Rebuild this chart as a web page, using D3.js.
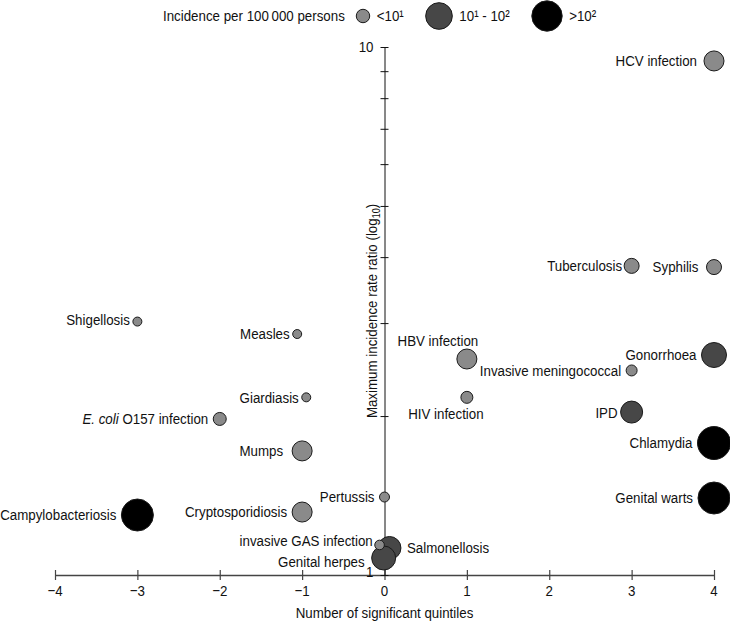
<!DOCTYPE html>
<html>
<head>
<meta charset="utf-8">
<script src="https://cdn.jsdelivr.net/npm/d3@7"></script>
<style>
body { margin: 0; background: #fff; }
svg text { font-family: "Liberation Sans", Arial, Helvetica, sans-serif; font-size: 15.5px; fill: #111; }
</style>
</head>
<body>
<div id="chart"></div>
<script>
// diseases, quintiles, max IRR (log axis), incidence per 100 000
var diseases = ["HCV infection", "Tuberculosis", "Syphilis", "Shigellosis", "Measles",
  "HBV infection", "Gonorrhoea", "Invasive meningococcal", "Giardiasis", "HIV infection",
  "E. coli O157 infection", "IPD", "Chlamydia", "Mumps", "Pertussis", "Genital warts",
  "Campylobacteriosis", "Cryptosporidiosis", "Salmonellosis", "Genital herpes", "invasive GAS infection"]
var quintiles = [4, 3, 4, -3, -1.06, 1, 4, 3, -0.95, 1, -2, 3, 4, -1, 0, 4, -3, -1, 0.06, -0.01, -0.06]
var irr = [9.41, 3.85, 3.83, 3.02, 2.86, 2.565, 2.61, 2.44, 2.17, 2.17, 1.975, 2.035, 1.778, 1.718,
  1.405, 1.399, 1.299, 1.316, 1.125, 1.077, 1.14]
var incidence = [7.4, 1.6, 1.6, 0.25, 0.25, 7.4, 34, 0.46, 0.25, 0.63, 0.86, 13.6, 400, 7.4,
  0.34, 293, 293, 7.4, 18.5, 25, 0.3]

var xTicks = [-4, -3, -2, -1, 0, 1, 2, 3, 4]
var yTicks = [1, 2, 3, 4, 5, 6, 7, 8, 9, 10]
var yTickLabels = [1, 10]
var legendLabels = ["<10\u00B9", "10\u00B9 - 10\u00B2", ">10\u00B2"]
var legendIncidence = [0.6, 46, 158]

var width = 730, height = 624
var sx = 0.86 // narrow the type, like the original condensed face

var svg = d3.select("#chart").append("svg")
  .attr("width", width)
  .attr("height", height)

var x = d3.scaleLinear().domain([-4, 4]).range([55, 714])
var y = d3.scaleLog().domain([1, 10]).range([575, 47])
var r = d3.scaleLog().domain([0.1, 1000]).range([3, 18])

function fillFor(v) {
  if (v < 10) return "#8a8a8a"
  if (v < 100) return "#474747"
  return "#000"
}

function ctext(g, px, py, anchor) {
  return g.append("text")
    .attr("transform", "translate(" + px + "," + py + ") scale(" + sx + ",1)")
    .attr("text-anchor", anchor || "start")
    .attr("dy", "0.35em")
}

// x axis
var xAxis = svg.append("g")
  .attr("transform", "translate(0," + y(1) + ")")
  .call(d3.axisBottom(x).tickValues(xTicks).tickSizeOuter(0).tickFormat(""))
xAxis.select(".domain").attr("stroke", "#444").attr("stroke-width", 1.6)
xAxis.selectAll(".tick line").attr("y1", -5).attr("y2", 5).attr("stroke", "#444").attr("stroke-width", 1.2)
xTicks.forEach(function(t) {
  ctext(svg, x(t), 591, "middle").text(d3.format("d")(t))
})
ctext(svg, x(0), 613, "middle").text("Number of significant quintiles")

// y axis
var yAxis = svg.append("g")
  .attr("transform", "translate(" + x(0) + ",0)")
  .call(d3.axisLeft(y).tickValues(yTicks).tickSizeOuter(0).tickFormat(""))
yAxis.select(".domain").attr("stroke", "#111")
yAxis.selectAll(".tick line").attr("x1", -4).attr("x2", 4).attr("stroke", "#111")
yTickLabels.forEach(function(t) {
  ctext(svg, x(0) - 11, y(t) - (t == 1 ? 3 : 0), "end").text(t)
})

var ylab = svg.append("text")
  .attr("transform", "translate(372,311) rotate(-90) scale(" + sx + ",1)")
  .attr("text-anchor", "middle")
  .attr("dy", "0.35em")
ylab.append("tspan").text("Maximum incidence rate ratio (log")
ylab.append("tspan").attr("font-size", "10.5px").attr("dy", 3).text("10")
ylab.append("tspan").attr("dy", -3).text(")")

// points
var data = diseases.map(function(d, i) {
  return {name: d, q: quintiles[i], irr: irr[i], inc: incidence[i]}
})
// overlap order at origin: Salmonellosis, Genital herpes, GAS on top
svg.append("g").selectAll("circle")
  .data(data)
  .enter().append("circle")
  .attr("cx", function(d) { return x(d.q) })
  .attr("cy", function(d) { return y(d.irr) })
  .attr("r", function(d) { return r(d.inc) })
  .attr("fill", function(d) { return fillFor(d.inc) })
  .attr("stroke", "#1a1a1a")
  .attr("stroke-width", 1)

var labelPlace = {"HBV infection": "above", "HIV infection": "below", "Salmonellosis": "right"}
var labelGap = {"Mumps": 9, "Syphilis": 8, "HCV infection": 7, "Genital herpes": 7, "invasive GAS infection": 2,
  "Tuberculosis": 2, "Shigellosis": 3, "Measles": 3, "Giardiasis": 3, "IPD": 3}
var labelShift = {"invasive GAS infection": -4, "Genital herpes": 4, "Shigellosis": -2}

var labels = svg.append("g")
data.forEach(function(d) {
  var cx = x(d.q), cy = y(d.irr) + (labelShift[d.name] || 0), rr = r(d.inc)
  var side = labelPlace[d.name] || "left"
  var gap = labelGap[d.name] != null ? labelGap[d.name] : 5
  var t
  if (side == "left") t = ctext(labels, cx - rr - gap, cy, "end")
  else if (side == "right") t = ctext(labels, cx + rr + 6, cy, "start")
  else if (side == "above") t = ctext(labels, cx - 29, cy - 18, "middle")
  else t = ctext(labels, cx - 21, cy + 16, "middle")
  if (d.name.indexOf("E. coli") == 0) {
    t.append("tspan").attr("font-style", "italic").text("E. coli")
    t.append("tspan").text(d.name.slice(7))
  } else {
    t.text(d.name)
  }
})

// legend
var legend = svg.append("g")
ctext(legend, 163, 16, "start").text("Incidence per 100\u2009000 persons")
var legX = [363, 439, 547]
var legR = d3.scaleLog().domain([0.1, 1000]).range([4, 18])
legendLabels.forEach(function(lab, i) {
  var rr = legR(legendIncidence[i])
  legend.append("circle")
    .attr("cx", legX[i]).attr("cy", 16).attr("r", rr)
    .attr("fill", fillFor(legendIncidence[i] < 1 ? 1 : legendIncidence[i]))
    .attr("stroke", "#1a1a1a")
  ctext(legend, legX[i] + rr + 7, 16, "start").text(lab)
})
</script>
</body>
</html>
